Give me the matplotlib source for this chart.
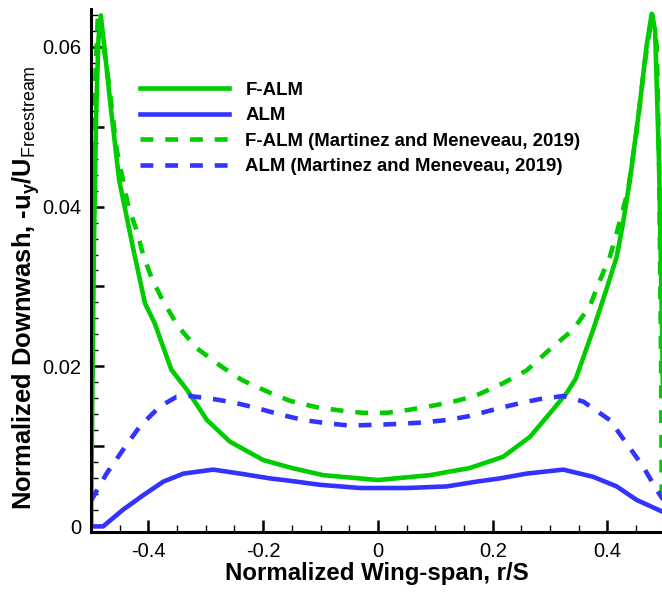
import matplotlib
matplotlib.use("Agg")
import matplotlib.pyplot as plt
from matplotlib.ticker import MultipleLocator, FuncFormatter

plt.rcParams["font.family"] = ["Liberation Sans", "DejaVu Sans"]
plt.rcParams["mathtext.fontset"] = "custom"
plt.rcParams["mathtext.rm"] = "Liberation Sans"
plt.rcParams["mathtext.it"] = "Liberation Sans"
plt.rcParams["mathtext.bf"] = "Liberation Sans:bold"
plt.rcParams["axes.unicode_minus"] = False

# F-ALM (present)
falm_x = [-0.5, -0.498, -0.495, -0.491, -0.487, -0.483, -0.476, -0.467, -0.451,
          -0.427, -0.406, -0.389, -0.36, -0.333, -0.298, -0.258, -0.2, -0.15,
          -0.095, 0.0, 0.09, 0.16, 0.218, 0.265, 0.305, 0.329, 0.345, 0.375,
          0.398, 0.416, 0.427, 0.439, 0.455, 0.468, 0.477, 0.483, 0.49, 0.495, 0.5]
falm_y = [0.0, 0.015, 0.035, 0.052, 0.061, 0.0639, 0.0595, 0.0533, 0.0433,
          0.0349, 0.0279, 0.0254, 0.0196, 0.0171, 0.0133, 0.0106, 0.0083, 0.0073,
          0.0064, 0.0058, 0.0064, 0.0073, 0.0087, 0.0112, 0.0146, 0.0167, 0.0185, 0.0246,
          0.0296, 0.0337, 0.0379, 0.0433, 0.052, 0.060, 0.0641, 0.062, 0.045, 0.025, 0.0]

# ALM (present)
alm_x = [-0.5, -0.479, -0.444, -0.409, -0.374, -0.339, -0.287, -0.24, -0.188,
         -0.153, -0.101, -0.031, 0.05, 0.12, 0.172, 0.2125, 0.259, 0.323, 0.375,
         0.416, 0.451, 0.494, 0.5]
alm_y = [0.0, 0.0, 0.0021, 0.0039, 0.0056, 0.0066, 0.0071, 0.0066, 0.006,
         0.0057, 0.0052, 0.0048, 0.0048, 0.005, 0.0056, 0.006, 0.0066, 0.0071, 0.0062,
         0.005, 0.0033, 0.0019, 0.0017]

# F-ALM (Martinez and Meneveau, 2019)
mm_falm_x = [-0.5, -0.497, -0.493, -0.488, -0.482, -0.47, -0.455, -0.435, -0.42,
             -0.409, -0.394, -0.374, -0.348, -0.316, -0.273, -0.237, -0.188, -0.153,
             -0.107, -0.066, -0.026, 0.015, 0.056, 0.096, 0.137, 0.172, 0.218, 0.259,
             0.299, 0.34, 0.369, 0.387, 0.404, 0.416, 0.427, 0.436, 0.45, 0.465,
             0.478, 0.486, 0.49, 0.4935, 0.4945, 0.5]
mm_falm_y = [0.0, 0.03, 0.055, 0.064, 0.062, 0.056, 0.047, 0.040, 0.0369,
             0.0339, 0.031, 0.0281, 0.025, 0.0223, 0.020, 0.0183, 0.0167, 0.0157,
             0.0149, 0.0145, 0.0142, 0.0142, 0.0146, 0.0151, 0.0157, 0.0164, 0.0179, 0.0195,
             0.0221, 0.0246, 0.0275, 0.0308, 0.0337, 0.0367, 0.0396, 0.0421, 0.049, 0.058,
             0.064, 0.060, 0.045, 0.02, 0.004, 0.0]

# ALM (Martinez and Meneveau, 2019)
mm_alm_x = [-0.5, -0.473, -0.444, -0.415, -0.38, -0.351, -0.3275, -0.293, -0.252,
            -0.211, -0.171, -0.13, -0.089, -0.049, -0.008, 0.0325, 0.079, 0.12, 0.16,
            0.212, 0.253, 0.288, 0.323, 0.358, 0.404, 0.433, 0.462, 0.4855, 0.5]
mm_alm_y = [0.0032, 0.0066, 0.0096, 0.0125, 0.015, 0.0162, 0.0163, 0.016, 0.0155,
            0.0148, 0.014, 0.0133, 0.0129, 0.0126, 0.0127, 0.0128, 0.013, 0.0133, 0.0138,
            0.0148, 0.0155, 0.016, 0.0163, 0.0156, 0.0133, 0.0104, 0.0075, 0.0046, 0.003]

green = "#00cc00"
blue = "#3333ff"

fig = plt.figure(figsize=(6.62, 5.96), dpi=100)
ax = fig.add_axes([0.1375, 0.1074, 0.8625, 0.8775])

lw = 3.3
dash = (2.8, 2.6)
ax.plot(falm_x, falm_y, color=green, lw=lw, label="F-ALM")
ax.plot(alm_x, alm_y, color=blue, lw=lw, label="ALM")
ax.plot(mm_falm_x, mm_falm_y, color=green, lw=lw, dashes=dash,
        label="F-ALM (Martinez and Meneveau, 2019)")
ax.plot(mm_alm_x, mm_alm_y, color=blue, lw=lw, dashes=dash,
        label="ALM (Martinez and Meneveau, 2019)")

ax.set_xlim(-0.5, 0.495)
ax.set_ylim(-0.0007, 0.0647)

ax.spines["top"].set_visible(False)
ax.spines["right"].set_visible(False)
ax.spines["left"].set_linewidth(2.2)
ax.spines["bottom"].set_linewidth(2.2)

ax.xaxis.set_major_locator(MultipleLocator(0.2))
ax.xaxis.set_minor_locator(MultipleLocator(0.05))
ax.yaxis.set_major_locator(MultipleLocator(0.01))
ax.yaxis.set_minor_locator(MultipleLocator(0.002))


def fmt_x(v, pos):
    if abs(v) < 1e-9:
        return "0"
    return f"{v:.1f}"


def fmt_y(v, pos):
    k = int(round(v / 0.01))
    if k % 2:
        return ""
    if k == 0:
        return "0"
    return f"{v:.2f}"


ax.xaxis.set_major_formatter(FuncFormatter(fmt_x))
ax.yaxis.set_major_formatter(FuncFormatter(fmt_y))
ax.tick_params(which="major", direction="in", length=9, width=1.8,
               labelsize=14.5, pad=7)
ax.tick_params(which="minor", direction="in", length=5, width=1.0)
ax.tick_params(top=False, right=False, which="both")

ax.set_xlabel("Normalized Wing-span, r/S", fontsize=17.3, fontweight="bold",
              labelpad=1)
ax.set_ylabel("Normalized Downwash, -u$_\\mathbf{y}$/U$_{\\mathrm{Freestream}}$",
              fontsize=18.4, fontweight="bold")
ax.yaxis.set_label_coords(-0.086, 0.4675)

ax.legend(loc="upper left", bbox_to_anchor=(0.073, 0.875), frameon=False,
          prop={"weight": "bold", "size": 13.4}, handlelength=4.8,
          handletextpad=0.85, labelspacing=0.45, borderaxespad=0)

fig.savefig("out.png", dpi=100)
